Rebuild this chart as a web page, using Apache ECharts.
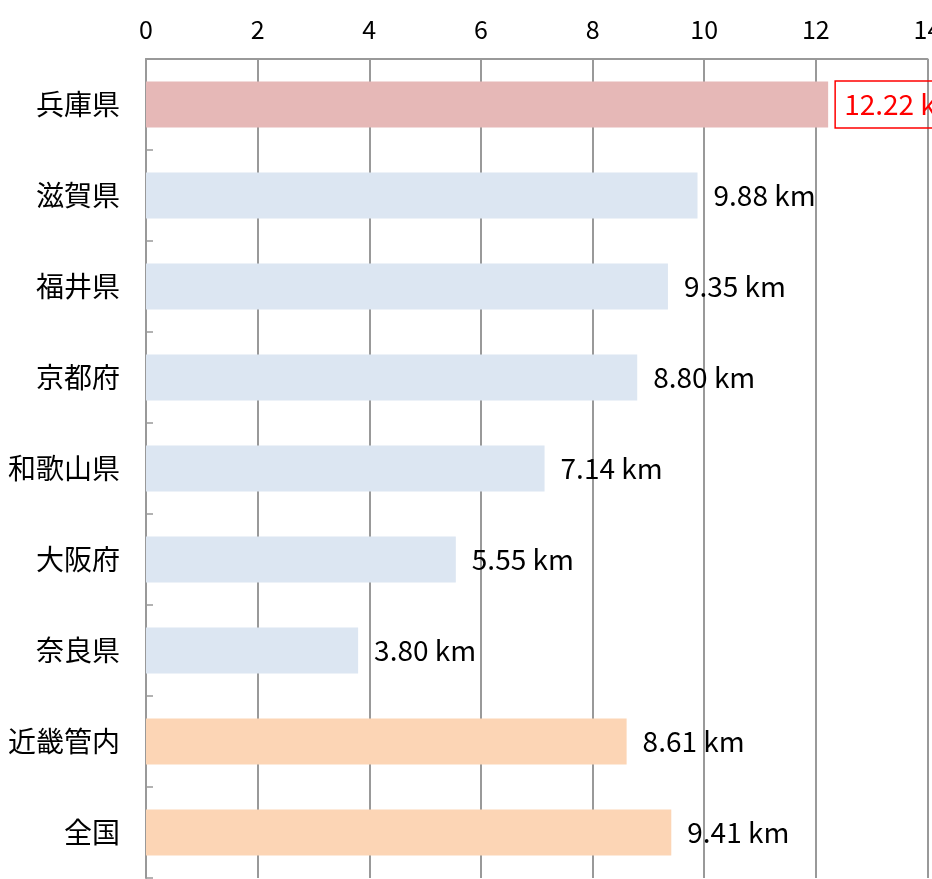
<!DOCTYPE html>
<html>
<head>
<meta charset="utf-8">
<style>
  html, body { margin: 0; padding: 0; background: #fff; }
  #chart { width: 932px; height: 879px; }
</style>
<script src="https://cdn.jsdelivr.net/npm/echarts@6/dist/echarts.min.js"></script>
</head>
<body>
<div id="chart"></div>
<script>
// データ
const categories = ["兵庫県", "滋賀県", "福井県", "京都府", "和歌山県", "大阪府", "奈良県", "近畿管内", "全国"]
const values = [12.22, 9.88, 9.35, 8.80, 7.14, 5.55, 3.80, 8.61, 9.41]
const unit = "km"
const xTicks = [0, 2, 4, 6, 8, 10, 12, 14]

const font = "'Noto Sans CJK JP', 'Noto Sans', sans-serif"

// 色分け：先頭は強調、最後の2つは比較用
const barColor = (i) => {
  if (i === 0) return "#E6B8B7"
  if (i >= categories.length - 2) return "#FCD5B5"
  return "#DCE6F2"
}

const seriesData = values.map((v, i) => {
  const item = { value: v, itemStyle: { color: barColor(i) } }
  if (i === 0) {
    item.label = {
      color: "#FF0000",
      borderColor: "#FF0000",
      borderWidth: 1.5,
      padding: [10, 9, 9, 9],
      distance: 7,
    }
  }
  return item
})

const myChart = echarts.init(document.getElementById("chart"))

const option = {
  animation: false,
  grid: {
    left: 146,
    right: 4.5,
    top: 59,
    bottom: 1,
    outerBoundsMode: "none",
  },
  xAxis: {
    type: "value",
    position: "top",
    min: xTicks[0],
    max: xTicks[xTicks.length - 1],
    interval: 2,
    axisLine: { show: true, lineStyle: { color: "#999", width: 2 } },
    axisTick: { show: false },
    axisLabel: {
      color: "#000",
      fontSize: 25,
      fontFamily: font,
      margin: 17,
    },
    splitLine: { show: true, lineStyle: { color: "#999", width: 2 } },
  },
  yAxis: {
    type: "category",
    inverse: true,
    data: categories,
    axisLine: { show: true, lineStyle: { color: "#999", width: 2 } },
    axisTick: { show: true, inside: true, length: 7, lineStyle: { color: "#999", width: 1.5 } },
    axisLabel: {
      color: "#000",
      fontSize: 28,
      fontFamily: font,
      margin: 26,
    },
  },
  series: [
    {
      type: "bar",
      data: seriesData,
      barWidth: 46,
      label: {
        show: true,
        position: "right",
        distance: 16,
        color: "#000",
        fontSize: 28,
        fontFamily: font,
        formatter: (p) => p.value.toFixed(2) + " " + unit,
      },
    },
  ],
}

myChart.setOption(option)
</script>
</body>
</html>
